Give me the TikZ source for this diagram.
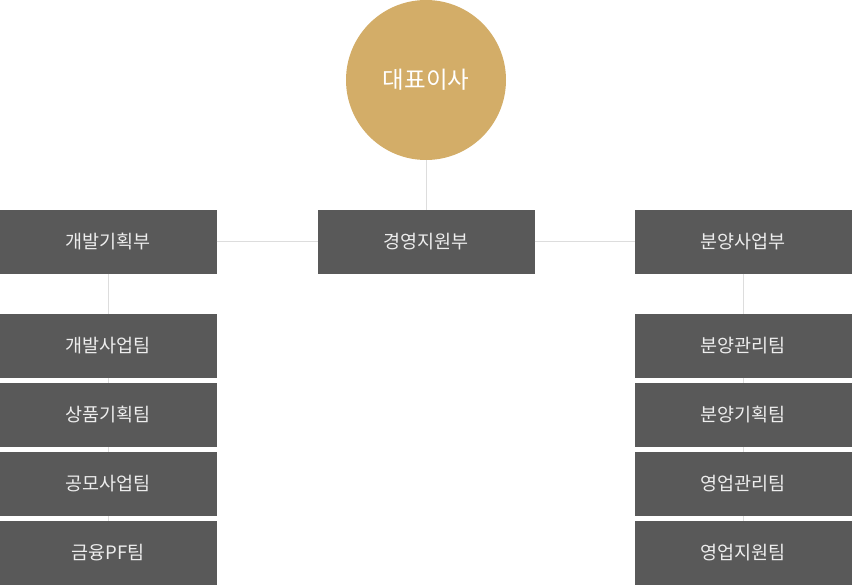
\documentclass[tikz,border=0pt]{standalone}
\usepackage{fontspec}
\usepackage{tikz}
\usetikzlibrary{positioning}
\newfontfamily\krfont{Noto Sans CJK KR}
\definecolor{boxgray}{RGB}{89,89,89}
\definecolor{ceogold}{RGB}{211,173,104}
\definecolor{linkgray}{RGB}{221,221,221}
\tikzset{CEO/.style={
		circle,
		fill=ceogold,
		text=white,
		inner sep = 0pt,
		outer sep = 0pt,
		minimum size=160pt,
		font=\krfont\fontsize{23.5}{26}\selectfont,
	}
}
\tikzset{org_box/.style={
		rectangle,
		fill=boxgray,
		text=white!93!black,
		inner sep = 0pt,
		outer sep = 0pt,
		minimum width=217pt,
		minimum height=64pt,
		text centered,
		font=\krfont\fontsize{18.5}{21}\selectfont,
	}
}
\tikzset{link/.style={
		draw=linkgray,
		line width=1pt,
	}
}
\begin{document}
\begin{tikzpicture}[x=1pt, y=1pt, node distance = 5pt and 100pt]

\useasboundingbox (0,0) rectangle (852,-585);

% top
\node[CEO] (ceo) at (426,-80) {대표이사};

% departments
\node[org_box, below = 50pt of ceo] (hq) {경영지원부};
\node[org_box, left = 101pt of hq] (dev) {개발기획부};
\node[org_box, right = of hq] (sales) {분양사업부};

% teams
\node[org_box, below = 40pt of dev] (devbiz) {개발사업팀};
\node[org_box, below = of devbiz] (product) {상품기획팀};
\node[org_box, below = of product] (contest) {공모사업팀};
\node[org_box, below = of contest] (finance) {금융PF팀};

\node[org_box, below = 40pt of sales] (salesmgmt) {분양관리팀};
\node[org_box, below = of salesmgmt] (salesplan) {분양기획팀};
\node[org_box, below = of salesplan] (bizmgmt) {영업관리팀};
\node[org_box, below = of bizmgmt] (bizsupport) {영업지원팀};

% links
\draw[link] (ceo.south) -- (hq.north);
\draw[link] (dev.east) -- (hq.west);
\draw[link] (hq.east) -- (sales.west);
\draw[link] (dev.south) -- (devbiz.north);
\draw[link] (devbiz.south) -- (product.north);
\draw[link] (product.south) -- (contest.north);
\draw[link] (contest.south) -- (finance.north);
\draw[link] (sales.south) -- (salesmgmt.north);
\draw[link] (salesmgmt.south) -- (salesplan.north);
\draw[link] (salesplan.south) -- (bizmgmt.north);
\draw[link] (bizmgmt.south) -- (bizsupport.north);

\end{tikzpicture}
\end{document}
